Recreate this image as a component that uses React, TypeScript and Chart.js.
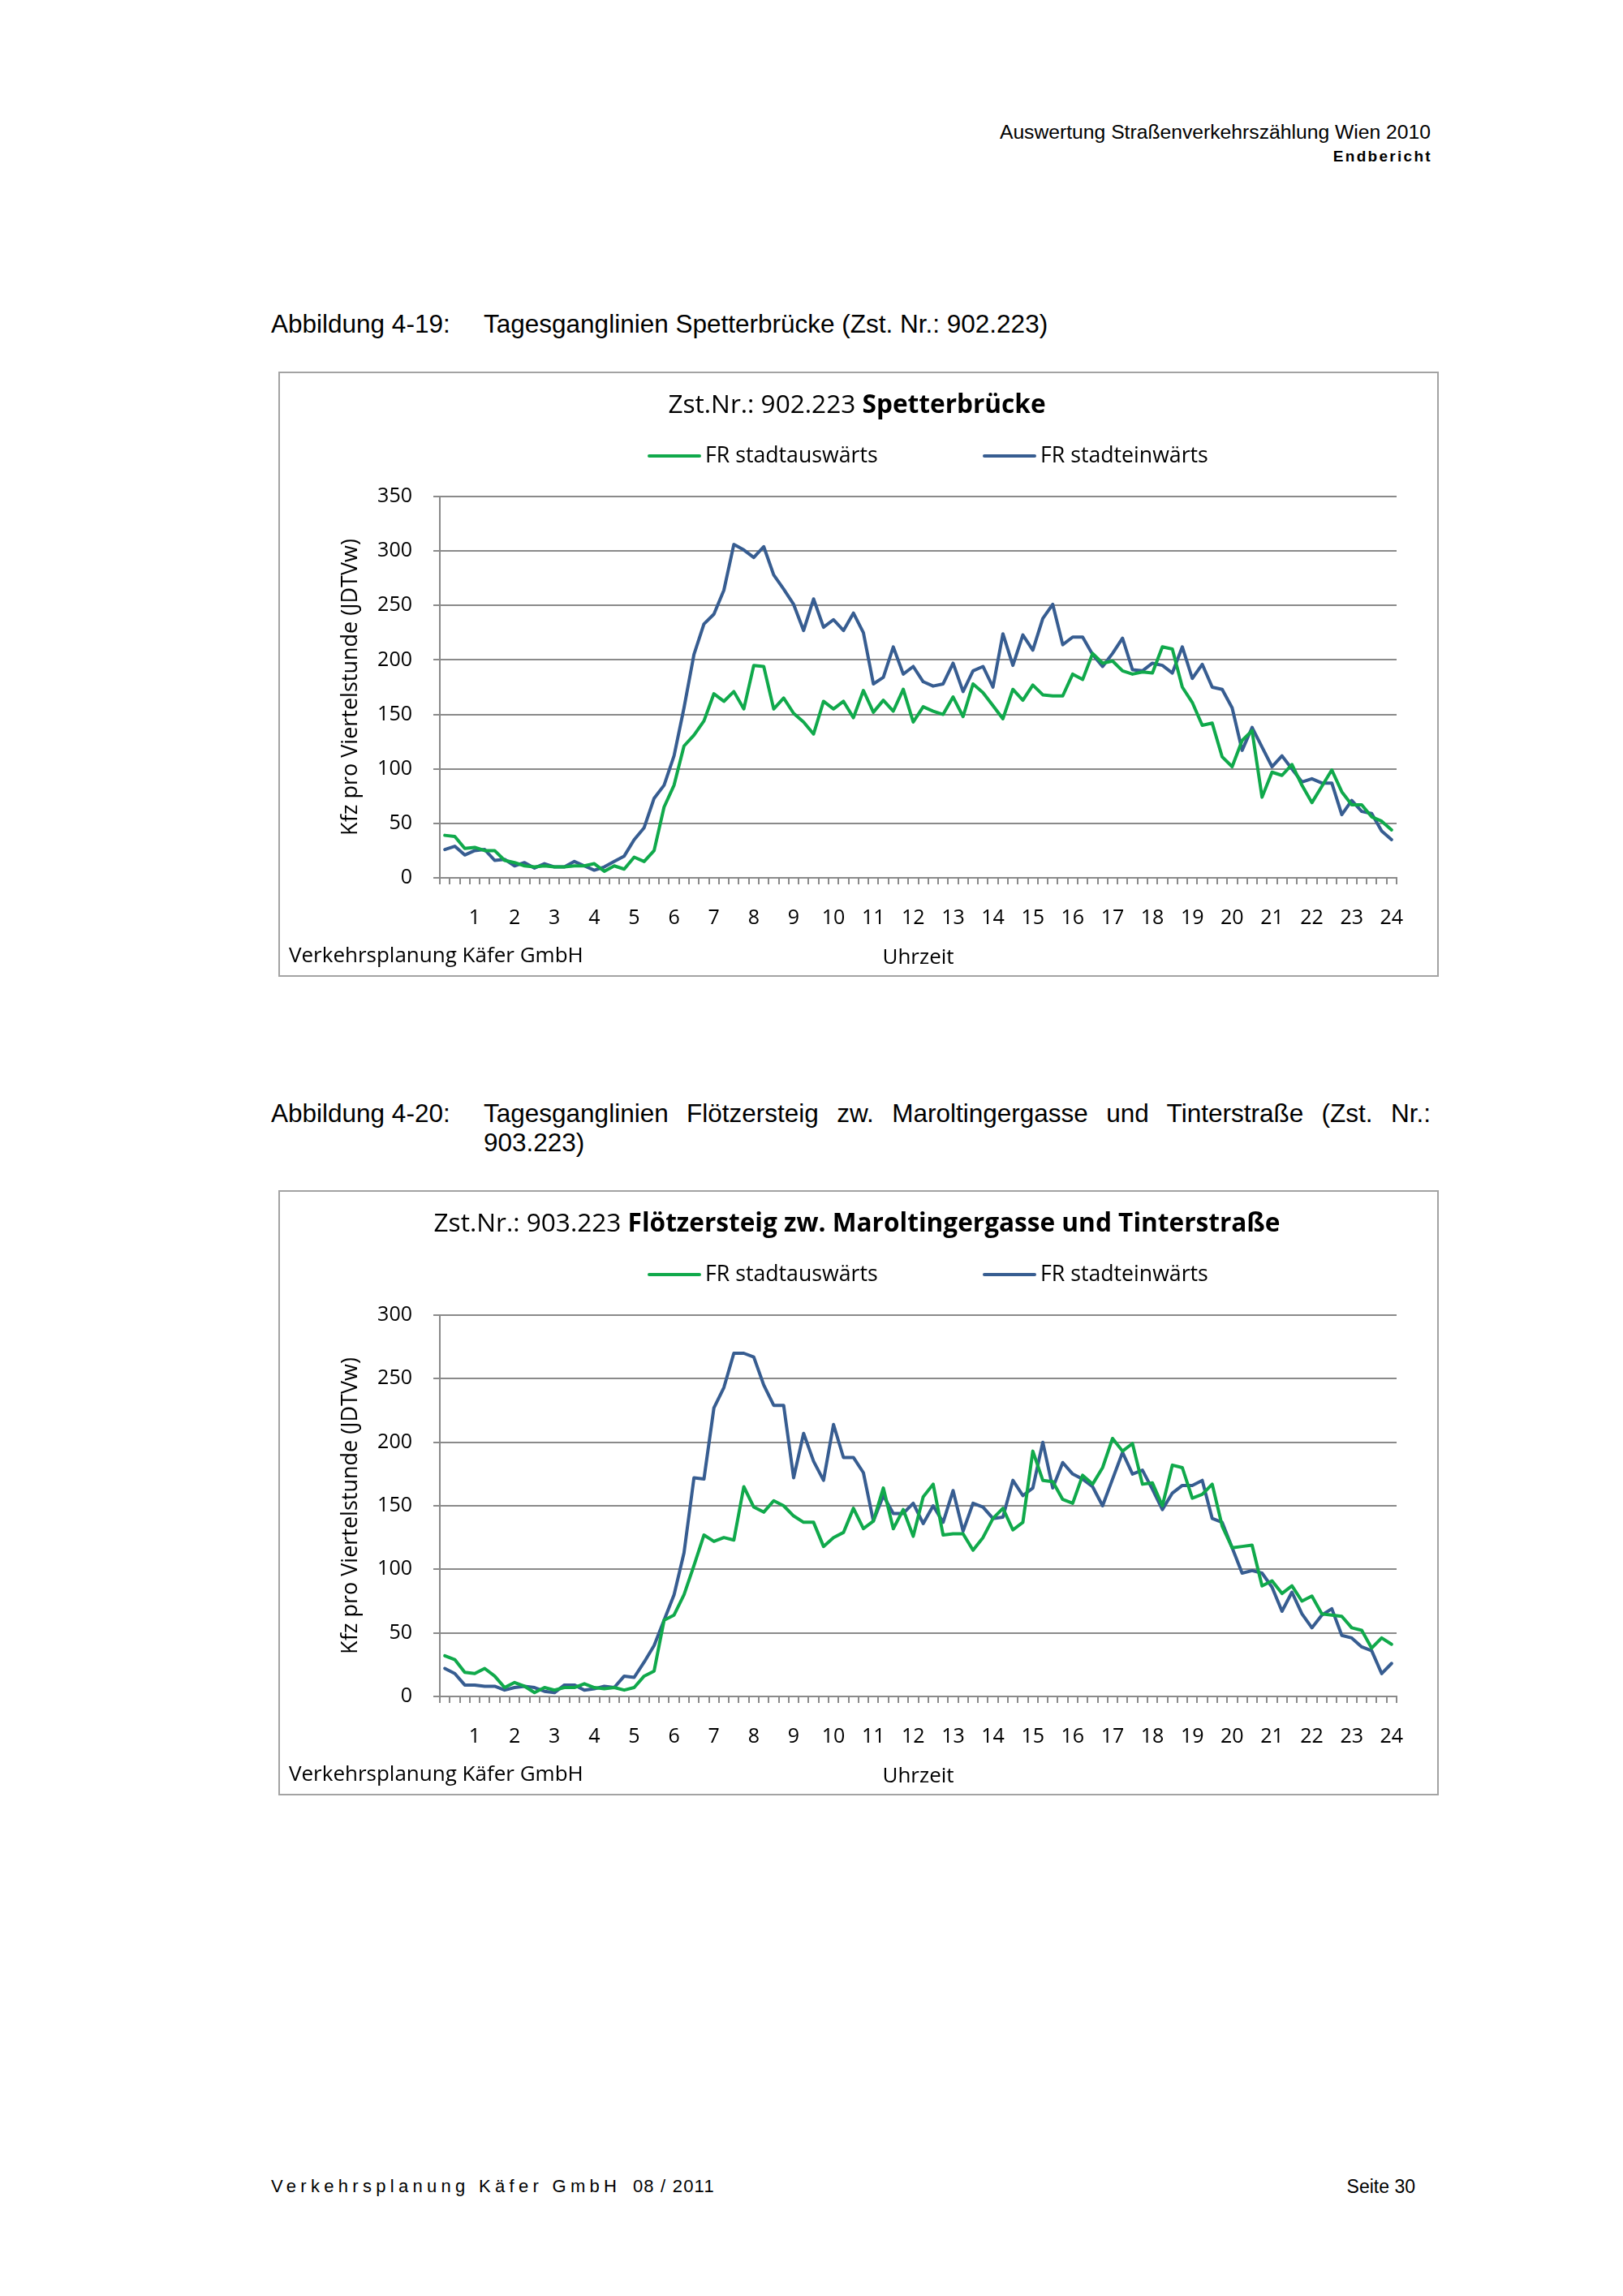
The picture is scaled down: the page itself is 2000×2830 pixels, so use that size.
import React, { useEffect, useRef } from "react";
import { Chart, registerables } from "chart.js";

Chart.register(...registerables);

// ---------- data ----------
const hourTicks = ["1","2","3","4","5","6","7","8","9","10","11","12","13","14","15","16","17","18","19","20","21","22","23","24"];

const seriesNames = ["FR stadtauswärts", "FR stadteinwärts"];

const spetterOut = [
  39, 38, 27, 28, 25, 25, 16, 14, 11, 10, 11, 10,
  10, 11, 11, 13, 6, 11, 8, 19, 15, 25, 65, 85,
  121, 131, 144, 169, 162, 171, 155, 195, 194, 155, 165, 151,
  143, 132, 162, 155, 162, 147, 172, 152, 163, 153, 173, 143,
  157, 153, 150, 166, 148, 178, 170, 158, 146, 173, 163, 177,
  168, 167, 167, 187, 182, 206, 197, 199, 190, 187, 189, 188,
  212, 210, 175, 161, 140, 142, 111, 102, 126, 135, 74, 97,
  94, 104, 85, 69, 84, 99, 79, 67, 67, 56, 52, 44,
];

const spetterIn = [
  26, 29, 21, 25, 26, 16, 17, 11, 14, 9, 13, 10,
  10, 15, 11, 7, 10, 15, 20, 35, 46, 73, 85, 112,
  156, 205, 233, 242, 264, 306, 301, 294, 304, 278, 265, 251,
  227, 256, 230, 237, 227, 243, 225, 178, 184, 212, 187, 194,
  180, 176, 178, 197, 171, 190, 194, 175, 224, 195, 223, 209,
  238, 251, 214, 221, 221, 205, 194, 206, 220, 191, 190, 197,
  195, 188, 212, 183, 196, 175, 173, 156, 117, 138, 120, 102,
  112, 100, 88, 91, 87, 87, 58, 71, 61, 59, 43, 35,
];

const floetzOut = [
  32, 29, 19, 18, 22, 16, 7, 11, 8, 3, 7, 5,
  7, 7, 10, 7, 6, 7, 5, 7, 16, 20, 60, 64,
  80, 103, 127, 122, 125, 123, 165, 149, 145, 154, 150, 142,
  137, 137, 118, 125, 129, 148, 132, 138, 164, 132, 147, 126,
  157, 167, 127, 128, 128, 115, 125, 140, 148, 131, 137, 193,
  170, 169, 155, 152, 174, 167, 180, 203, 193, 199, 167, 168,
  150, 182, 180, 156, 159, 167, 134, 117, 118, 119, 87, 91,
  81, 87, 75, 79, 65, 64, 63, 54, 52, 38, 46, 41,
];

const floetzIn = [
  22, 18, 9, 9, 8, 8, 5, 7, 8, 7, 4, 3,
  9, 9, 5, 6, 8, 7, 16, 15, 27, 40, 60, 80,
  113, 172, 171, 227, 243, 270, 270, 267, 245, 229, 229, 172,
  207, 185, 170, 214, 188, 188, 176, 138, 158, 144, 144, 152,
  136, 150, 137, 162, 130, 152, 149, 140, 141, 170, 158, 164,
  200, 164, 184, 175, 171, 165, 150, 171, 192, 175, 178, 163,
  147, 160, 166, 166, 170, 140, 137, 117, 97, 99, 97, 86,
  67, 82, 65, 54, 64, 69, 48, 46, 39, 36, 18, 26,
];

// 96 quarter-hour categories, hour label at the last quarter of each hour
const quarterLabels: string[] = [];
hourTicks.forEach((h) => {
  quarterLabels.push("", "", "", h);
});

// ---------- styles ----------
const GREEN = "#10a94b";
const BLUE = "#375d91";
const GRID = "#8a8a8a";
const CHART_FONT = '"Open Sans", "Noto Sans", sans-serif';
const DOC_FONT = '"Liberation Sans", Arial, sans-serif';

const CANVAS_W = 1426;
const CANVAS_H = 742;

const decorPlugin = {
  id: "decor",
  afterDraw(chart: any, _args: any, opts: any) {
    const ctx = chart.ctx as CanvasRenderingContext2D;
    ctx.save();
    ctx.fillStyle = "#000";
    ctx.textBaseline = "middle";
    // title (regular + bold part)
    const tf = 31.6;
    ctx.font = `400 ${tf}px ${CHART_FONT}`;
    const w1 = ctx.measureText(opts.titleRegular).width;
    ctx.font = `700 ${tf}px ${CHART_FONT}`;
    const w2 = ctx.measureText(opts.titleBold).width;
    const x = opts.titleX - (w1 + w2) / 2;
    ctx.textAlign = "left";
    ctx.font = `400 ${tf}px ${CHART_FONT}`;
    ctx.fillText(opts.titleRegular, x, opts.titleY);
    ctx.font = `700 ${tf}px ${CHART_FONT}`;
    ctx.fillText(opts.titleBold, x + w1, opts.titleY);

    // legend
    ctx.font = `400 26.7px ${CHART_FONT}`;
    chart.data.datasets.forEach((ds: any, i: number) => {
      const lx = opts.legendX[i];
      ctx.strokeStyle = ds.borderColor;
      ctx.lineWidth = 4;
      ctx.lineCap = "round";
      ctx.beginPath();
      ctx.moveTo(lx, opts.legendY);
      ctx.lineTo(lx + 62, opts.legendY);
      ctx.stroke();
      ctx.fillText(ds.label, lx + 69, opts.legendY);
    });

    // source
    ctx.font = `400 26px ${CHART_FONT}`;
    ctx.fillText(opts.source, opts.sourceX, opts.sourceY);
    ctx.restore();
  },
};

type ChartProps = {
  titleRegular: string;
  titleBold: string;
  yMax: number;
  outValues: number[];
  inValues: number[];
};

function TrafficChart({ titleRegular, titleBold, yMax, outValues, inValues }: ChartProps) {
  const ref = useRef<HTMLCanvasElement | null>(null);
  useEffect(() => {
    if (!ref.current) return;
    const chart = new Chart(ref.current, {
      type: "line",
      data: {
        labels: quarterLabels,
        datasets: [
          {
            label: seriesNames[0],
            data: outValues,
            borderColor: GREEN,
            backgroundColor: GREEN,
            borderWidth: 4,
            pointRadius: 0,
            tension: 0,
            borderJoinStyle: "round",
            borderCapStyle: "round",
          },
          {
            label: seriesNames[1],
            data: inValues,
            borderColor: BLUE,
            backgroundColor: BLUE,
            borderWidth: 4,
            pointRadius: 0,
            tension: 0,
            borderJoinStyle: "round",
            borderCapStyle: "round",
          },
        ],
      },
      options: {
        animation: false,
        responsive: false,
        events: [],
        layout: { padding: { top: 152, right: 50, left: 0, bottom: 0 } },
        plugins: {
          legend: { display: false },
          tooltip: { enabled: false },
          decor: {
            titleRegular,
            titleBold,
            titleX: 711,
            titleY: 40,
            legendX: [455, 868],
            legendY: 102,
            source: "Verkehrsplanung Käfer GmbH",
            sourceX: 11,
            sourceY: 719,
          },
        } as any,
        scales: {
          x: {
            type: "category",
            offset: true,
            grid: {
              offset: true,
              drawOnChartArea: false,
              drawTicks: true,
              tickLength: 8,
              color: GRID,
              lineWidth: 2,
            },
            border: { display: true, color: GRID, width: 2 },
            ticks: {
              autoSkip: false,
              maxRotation: 0,
              minRotation: 0,
              padding: 27,
              color: "#000",
              font: { family: CHART_FONT, size: 25 },
            },
            title: {
              display: true,
              text: "Uhrzeit",
              color: "#000",
              font: { family: CHART_FONT, size: 26 },
              padding: { top: 0, bottom: 6 },
            },
            afterFit: (s: any) => {
              s.height = 120;
            },
          },
          y: {
            min: 0,
            max: yMax,
            ticks: {
              stepSize: 50,
              padding: 26,
              color: "#000",
              font: { family: CHART_FONT, size: 25 },
            },
            grid: { color: GRID, lineWidth: 2, tickLength: 8 },
            border: { display: true, color: GRID, width: 2 },
            title: {
              display: true,
              text: "Kfz pro Viertelstunde (JDTVw)",
              color: "#000",
              font: { family: CHART_FONT, size: 27 },
              padding: { top: 71, bottom: 0 },
            },
            afterFit: (s: any) => {
              s.width = 197;
            },
          },
        },
      },
      plugins: [decorPlugin],
    } as any);
    return () => chart.destroy();
  }, []);
  return <canvas ref={ref} width={CANVAS_W} height={CANVAS_H} style={{ display: "block" }} />;
}

const abs = (left: number, top: number, extra: React.CSSProperties = {}): React.CSSProperties => ({
  position: "absolute",
  left,
  top,
  whiteSpace: "nowrap",
  ...extra,
});

const CAP = 31.5;

export default function App() {
  return (
    <div
      style={{
        position: "absolute",
        left: 0,
        top: 0,
        width: 2000,
        height: 2830,
        background: "#fff",
        color: "#000",
        fontFamily: DOC_FONT,
        overflow: "hidden",
      }}
    >
      {/* header */}
      <div style={{ position: "absolute", right: 237, top: 149, fontSize: 24.7, lineHeight: "28px", whiteSpace: "nowrap" }}>
        Auswertung Straßenverkehrszählung Wien 2010
      </div>
      <div style={{ position: "absolute", right: 235, top: 181, fontSize: 19, lineHeight: "24px", fontWeight: 700, letterSpacing: 2.3, whiteSpace: "nowrap" }}>
        Endbericht
      </div>

      {/* caption 1 */}
      <div style={abs(334, 382, { fontSize: CAP, lineHeight: "34px" })}>Abbildung 4-19:</div>
      <div style={abs(596, 382, { fontSize: CAP, lineHeight: "34px" })}>Tagesganglinien Spetterbrücke (Zst. Nr.: 902.223)</div>

      {/* chart 1 */}
      <div style={{ position: "absolute", left: 343, top: 458, border: "2px solid #a3a3a3" }}>
        <TrafficChart titleRegular="Zst.Nr.: 902.223 " titleBold="Spetterbrücke" yMax={350} outValues={spetterOut} inValues={spetterIn} />
      </div>

      {/* caption 2 */}
      <div style={abs(334, 1355, { fontSize: CAP, lineHeight: "34px" })}>Abbildung 4-20:</div>
      <div
        style={{
          position: "absolute",
          left: 596,
          top: 1355,
          width: 1167,
          fontSize: CAP,
          lineHeight: "34px",
          whiteSpace: "nowrap",
          textAlign: "justify",
          textAlignLast: "justify" as any,
        }}
      >
        Tagesganglinien Flötzersteig zw. Maroltingergasse und Tinterstraße (Zst. Nr.:
      </div>
      <div style={abs(596, 1391, { fontSize: CAP, lineHeight: "34px" })}>903.223)</div>

      {/* chart 2 */}
      <div style={{ position: "absolute", left: 343, top: 1467, border: "2px solid #a3a3a3" }}>
        <TrafficChart
          titleRegular="Zst.Nr.: 903.223 "
          titleBold="Flötzersteig zw. Maroltingergasse und Tinterstraße"
          yMax={300}
          outValues={floetzOut}
          inValues={floetzIn}
        />
      </div>

      {/* footer */}
      <div style={abs(334, 2682, { fontSize: 22, lineHeight: "26px" })}>
        <span style={{ letterSpacing: 5.3 }}>Verkehrsplanung Käfer GmbH</span>
        <span style={{ letterSpacing: 1.2 }}>{"\u00a0\u00a008 / 2011"}</span>
      </div>
      <div style={{ position: "absolute", right: 256, top: 2682, fontSize: 23, lineHeight: "26px", whiteSpace: "nowrap" }}>
        Seite 30
      </div>
    </div>
  );
}
